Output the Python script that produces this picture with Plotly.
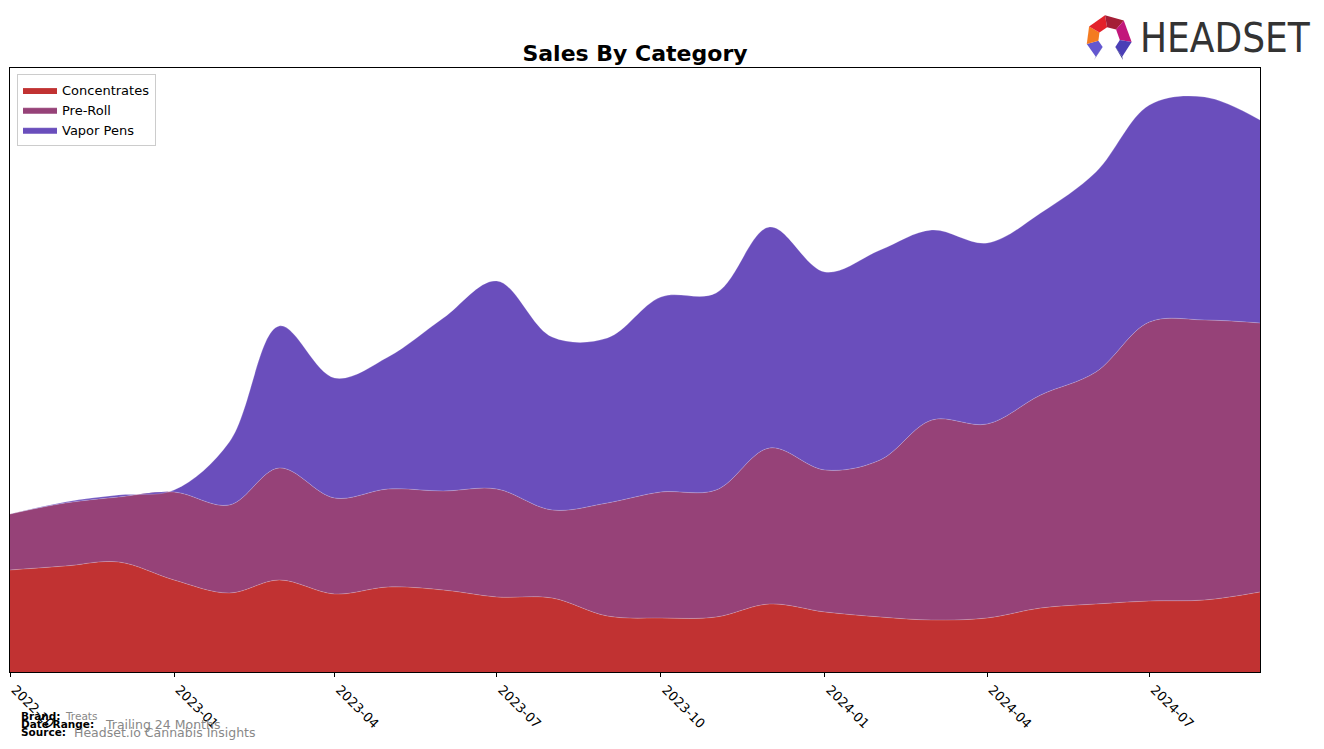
import math
import plotly.graph_objects as go

# ---------------- data ----------------
months = ["2022-10-01", "2022-11-01", "2022-12-01", "2023-01-01", "2023-02-01", "2023-03-01",
          "2023-04-01", "2023-05-01", "2023-06-01", "2023-07-01", "2023-08-01", "2023-09-01",
          "2023-10-01", "2023-11-01", "2023-12-01", "2024-01-01", "2024-02-01", "2024-03-01",
          "2024-04-01", "2024-05-01", "2024-06-01", "2024-07-01", "2024-08-01", "2024-09-01"]
concentrates = [102, 106, 110, 92, 79, 92, 78, 85, 82, 75, 74, 56,
                54, 55, 68, 60, 55, 52, 54, 64, 68, 71, 72, 80]
pre_roll = [56, 63, 65, 88, 88, 112, 96, 98, 99, 108, 88, 113,
            126, 127, 156, 142, 157, 200, 194, 213, 232, 279, 280, 269]
vapor_pens = [0, 1, 2, 2, 63, 142, 120, 132, 173, 208, 173, 165,
              195, 197, 221, 198, 210, 190, 181, 182, 200, 217, 223, 203]
series_names = ["Concentrates", "Pre-Roll", "Vapor Pens"]
series_colors = ["#C13232", "#964278", "#6A4EBC"]
tick_vals = ["2022-10-01", "2023-01-01", "2023-04-01", "2023-07-01",
             "2023-10-01", "2024-01-01", "2024-04-01", "2024-07-01"]
tick_text = ["2022-10", "2023-01", "2023-04", "2023-07",
             "2023-10", "2024-01", "2024-04", "2024-07"]

# ---------------- layout geometry ----------------
W, H = 1324, 749
L, R, T, B = 10, 1260, 68, 672


def px(x):
    return (x - L) / (R - L)


def py(y):
    return (B - y) / (B - T)


fig = go.Figure()
for name, vals, color in zip(series_names, [concentrates, pre_roll, vapor_pens], series_colors):
    fig.add_trace(go.Scatter(
        x=months, y=vals, name=name, mode="lines", stackgroup="one",
        line=dict(shape="spline", smoothing=1.0, width=0.6, color="rgba(255,255,255,0.35)"),
        fillcolor=color,
    ))

fig.update_layout(
    width=W, height=H,
    margin=dict(l=L, r=W - R, t=T, b=H - B, pad=0, autoexpand=False),
    paper_bgcolor="white", plot_bgcolor="white",
    font=dict(family="DejaVu Sans", color="black"),
    title=dict(text="<b>Sales By Category</b>", x=px(635), xref="paper", xanchor="center",
               y=1 - 53 / H, yref="container", yanchor="middle",
               font=dict(size=22, family="DejaVu Sans", color="black")),
    showlegend=True,
    legend=dict(x=px(17), y=py(74), xanchor="left", yanchor="top",
                bordercolor="#cccccc", borderwidth=1, bgcolor="rgba(255,255,255,0.8)",
                font=dict(size=13, family="DejaVu Sans", color="black"),
                traceorder="normal", itemwidth=34),
    xaxis=dict(type="date", range=[months[0], months[-1]], tickvals=tick_vals, ticktext=tick_text,
               tickangle=45, ticks="outside", ticklen=4, tickcolor="black", automargin=False,
               ticklabelshift=5,
               showline=True, linecolor="black", linewidth=1, mirror=True,
               showgrid=False, zeroline=False,
               tickfont=dict(size=13, family="DejaVu Sans", color="black")),
    yaxis=dict(range=[0, B - T], showticklabels=False, ticks="", showgrid=False, automargin=False,
               showline=True, linecolor="black", linewidth=1, mirror=True, zeroline=False),
)

# ---------------- footer ----------------
foot = [
    (19, 716, "<b>Brand:</b>", 10.5, "black"),
    (63, 716, "Treats", 10.5, "#888888"),
    (19, 724, "<b>Date Range:</b>", 10.5, "black"),
    (103, 724, "Trailing 24 Months", 12.5, "#888888"),
    (19, 732, "<b>Source:</b>", 10.5, "black"),
    (72, 732, "Headset.io Cannabis Insights", 12.5, "#888888"),
]
for x, y, txt, size, col in foot:
    fig.add_annotation(x=px(x), y=py(y), xref="paper", yref="paper", text=txt, showarrow=False,
                       xanchor="left", yanchor="middle",
                       font=dict(size=size, family="DejaVu Sans", color=col))

# ---------------- logo ----------------
fig.add_annotation(x=px(1138), y=py(38), xref="paper", yref="paper", text="HEADSET",
                   showarrow=False, xanchor="left", yanchor="middle",
                   font=dict(size=40, family="DejaVu Sans Condensed, Roboto", color="#333333"))

cx, cy, ro, ri = 1109, 38, 23, 11


def pt(a, r):
    a = math.radians(a)
    return px(cx + r * math.sin(a)), py(cy - r * math.cos(a))


def poly(points):
    return "M " + " L ".join(f"{x:.5f},{y:.5f}" for x, y in points) + " Z"


segments = [(-145, -105, "#6357D0"), (-105, -60, "#F47B20"), (-60, -10, "#E3222B"),
            (-10, 40, "#A41E36"), (40, 100, "#C2177B"), (100, 145, "#4B3FB6")]
for a1, a2, col in segments:
    p = [pt(a1, ro), pt(a2, ro), pt(a2, ri), pt(a1, ri)]
    fig.add_shape(type="path", path=poly(p), xref="paper", yref="paper",
                  fillcolor=col, line=dict(width=0), layer="above")
for a, tip in [(-145, (1094, 60)), (145, (1123, 60))]:
    p = [pt(a, ro), (px(tip[0]), py(tip[1])), pt(a, ri)]
    fig.add_shape(type="path", path=poly(p), xref="paper", yref="paper",
                  fillcolor="#2E2F8A", line=dict(width=0), layer="above")

fig.write_html("out.html")
